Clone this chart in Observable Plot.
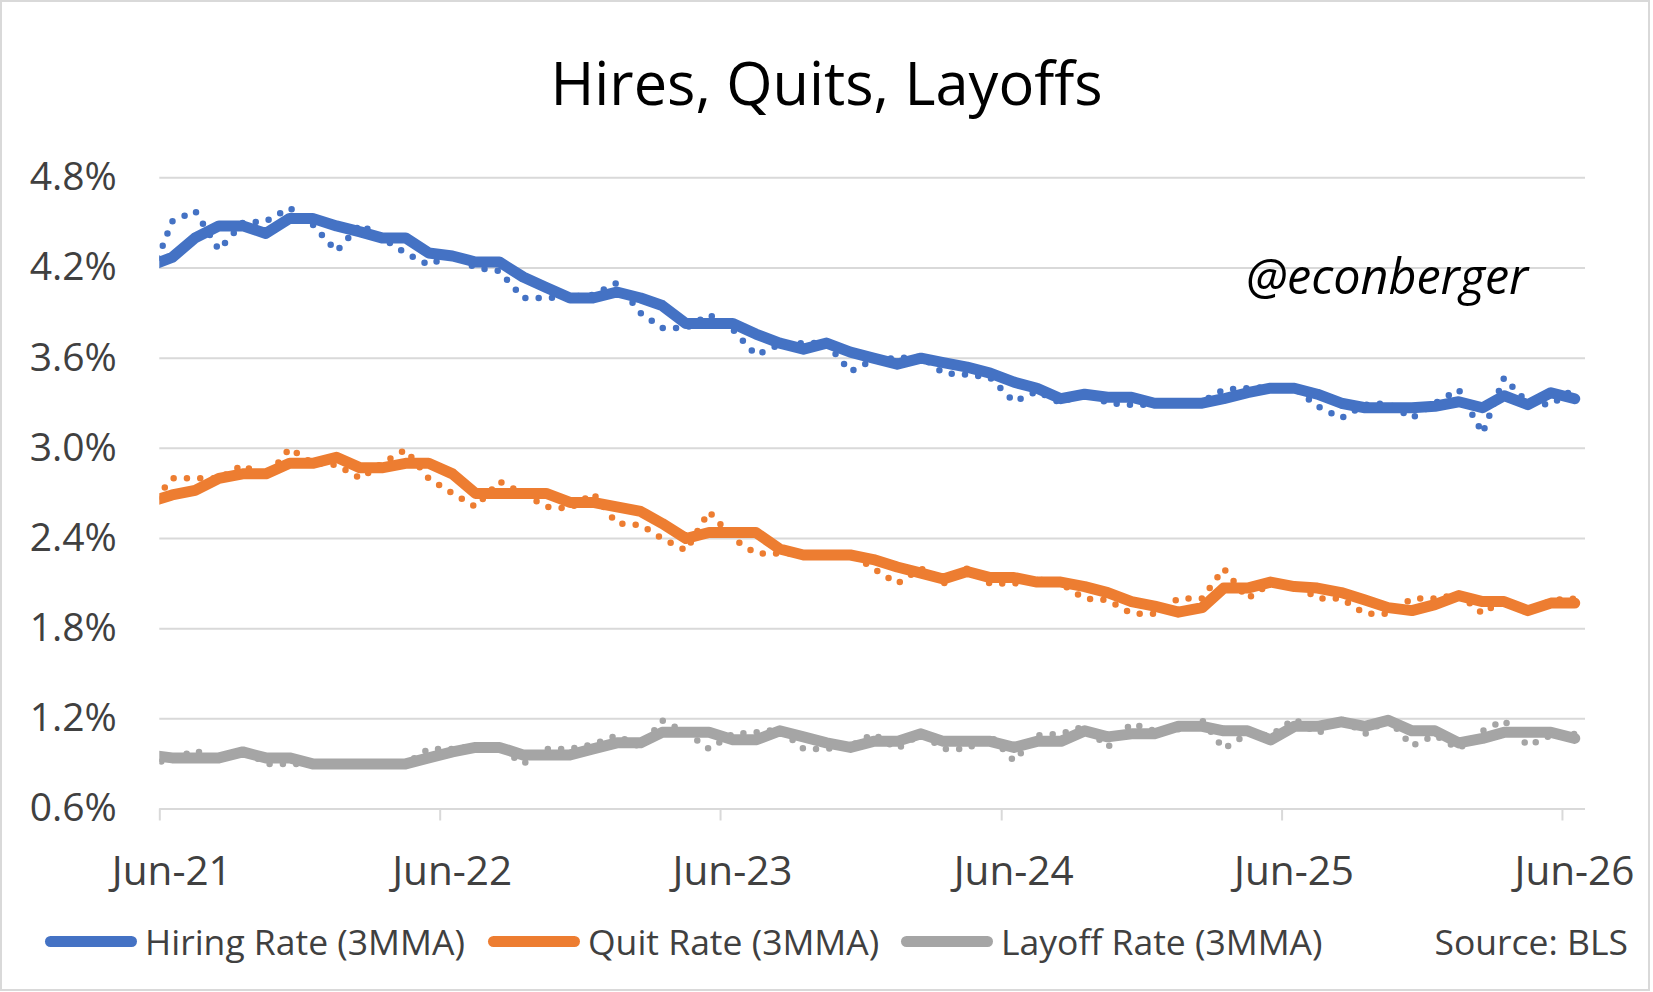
<!DOCTYPE html>
<html>
<head>
<meta charset="utf-8">
<script src="https://cdn.jsdelivr.net/npm/d3@7"></script>
<script src="https://cdn.jsdelivr.net/npm/@observablehq/plot@0.6"></script>
<style>
html,body{margin:0;padding:0;background:#fff;}
#page{position:relative;width:1653px;height:992px;overflow:hidden;background:#fff;font-family:"Open Sans",sans-serif;}
#frame{position:absolute;left:0;top:0;width:1650px;height:991px;box-sizing:border-box;border:2px solid #d9d9d9;pointer-events:none;}
#title{position:absolute;left:0;top:42px;width:1653px;height:80px;line-height:80px;text-align:center;font-size:59.5px;color:#000;white-space:nowrap;}
#chart{position:absolute;left:0;top:130px;}
#handle{position:absolute;left:1246px;top:247px;font-size:48.5px;font-style:italic;color:#000;line-height:56px;white-space:nowrap;}
#legend{position:absolute;left:0;top:900px;width:1653px;height:82px;font-size:35.5px;color:#404040;}
.item{position:absolute;top:0;height:82px;display:flex;align-items:center;white-space:nowrap;}
.sw{width:92px;height:11px;border-radius:5.5px;margin-right:8px;}
</style>
</head>
<body>
<div id="page">
  <div id="title">Hires, Quits, Layoffs</div>
  <div id="chart"></div>
  <div id="handle">@econberger</div>
  <div id="legend">
    <div class="item" style="left:45px"><div class="sw" style="background:#4472C4"></div><span>Hiring Rate (3MMA)</span></div>
    <div class="item" style="left:488px"><div class="sw" style="background:#ED7D31"></div><span>Quit Rate (3MMA)</span></div>
    <div class="item" style="left:901px"><div class="sw" style="background:#A5A5A5"></div><span>Layoff Rate (3MMA)</span></div>
    <div class="item" style="right:25px"><span>Source: BLS</span></div>
  </div>
  <div id="frame"></div>
</div>
<script>
// Monthly observations (May-21 .. Jun-26)
const months = ["2021-05","2021-06","2021-07","2021-08","2021-09","2021-10","2021-11","2021-12",
  "2022-01","2022-02","2022-03","2022-04","2022-05","2022-06","2022-07","2022-08","2022-09","2022-10","2022-11","2022-12",
  "2023-01","2023-02","2023-03","2023-04","2023-05","2023-06","2023-07","2023-08","2023-09","2023-10","2023-11","2023-12",
  "2024-01","2024-02","2024-03","2024-04","2024-05","2024-06","2024-07","2024-08","2024-09","2024-10","2024-11","2024-12",
  "2025-01","2025-02","2025-03","2025-04","2025-05","2025-06","2025-07","2025-08","2025-09","2025-10","2025-11","2025-12",
  "2026-01","2026-02","2026-03","2026-04","2026-05","2026-06"];

const hiresMonthly = [4.10,4.51,4.58,4.32,4.50,4.51,4.60,4.49,4.31,4.49,4.40,4.30,4.22,4.29,4.20,4.18,4.00,4.00,4.01,4.02,4.10,3.90,3.80,3.80,3.89,3.79,3.62,3.69,3.70,3.70,3.51,3.59,3.60,3.61,3.50,3.49,3.47,3.31,3.38,3.30,3.38,3.30,3.29,3.29,3.30,3.31,3.39,3.40,3.41,3.40,3.28,3.20,3.29,3.30,3.20,3.30,3.39,3.10,3.47,3.30,3.29,3.40];
const hires3MMA = [4.21,4.27,4.40,4.48,4.48,4.43,4.53,4.53,4.48,4.44,4.40,4.40,4.30,4.28,4.24,4.24,4.14,4.07,4.00,4.00,4.04,4.00,3.95,3.83,3.83,3.83,3.76,3.70,3.66,3.70,3.64,3.60,3.56,3.60,3.57,3.54,3.50,3.44,3.40,3.33,3.36,3.34,3.34,3.30,3.30,3.30,3.33,3.37,3.40,3.40,3.36,3.30,3.27,3.27,3.27,3.28,3.31,3.27,3.35,3.29,3.37,3.33];

const quitsMonthly = [2.60,2.80,2.80,2.80,2.89,2.80,3.00,2.90,2.89,2.80,2.90,2.99,2.80,2.70,2.61,2.78,2.70,2.61,2.60,2.70,2.50,2.49,2.40,2.32,2.58,2.40,2.30,2.30,2.30,2.30,2.30,2.20,2.10,2.20,2.10,2.20,2.10,2.10,2.13,2.10,2.00,1.99,1.90,1.90,2.00,2.00,2.20,2.00,2.10,2.10,2.00,2.00,1.90,1.90,2.00,2.00,2.03,1.90,2.00,1.90,1.99,2.00];
const quits3MMA = [2.64,2.69,2.72,2.80,2.83,2.83,2.90,2.90,2.94,2.87,2.87,2.90,2.90,2.83,2.70,2.70,2.70,2.70,2.64,2.64,2.61,2.58,2.50,2.40,2.44,2.44,2.44,2.33,2.29,2.29,2.29,2.26,2.21,2.17,2.13,2.18,2.14,2.14,2.11,2.11,2.08,2.04,1.98,1.95,1.91,1.94,2.07,2.07,2.11,2.08,2.07,2.04,1.99,1.94,1.92,1.96,2.02,1.98,1.98,1.92,1.97,1.97];

const layoffsMonthly = [0.90,0.93,0.99,0.92,1.00,0.90,0.90,0.90,0.90,0.90,0.90,0.90,1.00,1.00,1.02,1.01,0.90,1.00,1.00,1.03,1.09,1.01,1.19,1.11,1.00,1.10,1.11,1.13,1.00,1.00,1.02,1.10,1.00,1.10,1.00,1.00,1.09,0.92,1.09,1.10,1.15,1.01,1.17,1.12,1.13,1.19,1.00,1.10,1.09,1.20,1.10,1.20,1.10,1.20,1.02,1.09,1.00,1.12,1.19,1.02,1.09,1.10];
const layoffs3MMA = [0.96,0.94,0.94,0.94,0.98,0.94,0.94,0.90,0.90,0.90,0.90,0.90,0.94,0.98,1.01,1.01,0.96,0.96,0.96,1.00,1.04,1.04,1.11,1.11,1.11,1.06,1.06,1.12,1.08,1.04,1.01,1.05,1.05,1.10,1.05,1.05,1.05,1.01,1.05,1.05,1.12,1.08,1.10,1.10,1.15,1.15,1.12,1.12,1.06,1.15,1.15,1.18,1.15,1.19,1.12,1.12,1.04,1.07,1.11,1.11,1.11,1.07];

const yTicks = [0.6,1.2,1.8,2.4,3.0,3.6,4.2,4.8];
const xTickLabels = ["2021-06","2022-06","2023-06","2024-06","2025-06","2026-06"];

const colors = {hires:"#4472C4", quits:"#ED7D31", layoffs:"#A5A5A5"};

const rows = vals => months.map((m,i) => ({date: new Date(m + "-17T00:00:00Z"), v: vals[i]}));
const xTicks = xTickLabels.map(m => new Date(m + "-01T00:00:00Z"));

const dotted = (vals, c) => Plot.line(rows(vals), {x:"date", y:"v", stroke:c, strokeWidth:6.5, strokeDasharray:"0 13.3", strokeLinecap:"round", strokeLinejoin:"round", clip:true});
const thick = (vals, c) => Plot.line(rows(vals), {x:"date", y:"v", stroke:c, strokeWidth:11, strokeLinecap:"round", strokeLinejoin:"round", clip:true});

const chart = Plot.plot({
  width: 1653,
  height: 770,
  marginTop: 47.3,
  marginBottom: 91.5,
  marginLeft: 159.3,
  marginRight: 68,
  style: {fontFamily:"'Open Sans', sans-serif", fontSize:"39px", color:"#404040", background:"transparent", overflow:"visible"},
  x: {type:"utc", domain:[new Date("2021-06-01T00:00:00Z"), new Date("2026-07-01T00:00:00Z")]},
  y: {domain:[0.6, 4.8]},
  marks: [
    Plot.ruleY(yTicks, {stroke:"#d9d9d9", strokeWidth:2}),
    Plot.axisY({ticks:yTicks, tickSize:0, tickPadding:43, tickFormat:d => d.toFixed(1) + "%", label:null, fill:"#404040"}),
    Plot.axisX({ticks:xTicks, tickSize:12, tickPadding:0, text:null, stroke:"#d9d9d9", strokeWidth:2}),
    Plot.axisX({ticks:xTicks, tickSize:0, tickPadding:47, tickFormat:d3.utcFormat("%b-%y"), label:null, fill:"#404040", dx:12, fontSize:"40.5px"}),
    dotted(layoffsMonthly, colors.layoffs),
    dotted(quitsMonthly, colors.quits),
    dotted(hiresMonthly, colors.hires),
    thick(layoffs3MMA, colors.layoffs),
    thick(quits3MMA, colors.quits),
    thick(hires3MMA, colors.hires)
  ]
});
document.getElementById("chart").appendChild(chart);
</script>
</body>
</html>
